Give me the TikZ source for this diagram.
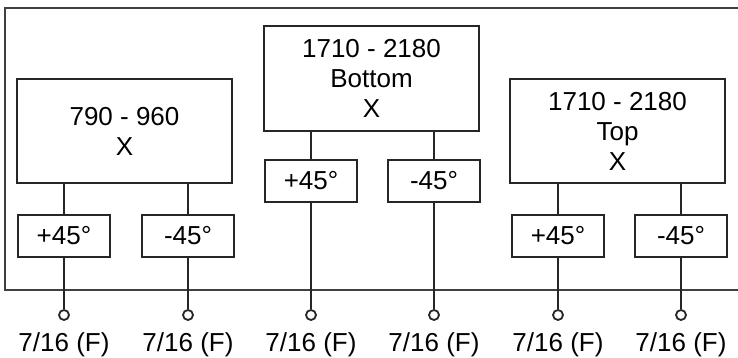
\documentclass[tikz,border=0pt]{standalone}
\usepackage{fontspec}
\setmainfont{Liberation Sans}
\begin{document}
\begin{tikzpicture}[x=0.5pt,y=-0.5pt,
  every node/.style={font=\fontsize{13}{15}\selectfont},
  bigbox/.style={draw=black!85, line width=1pt, minimum width=107.5pt, minimum height=52pt, align=center, inner sep=0pt},
  smallbox/.style={draw=black!85, line width=1pt, minimum width=46pt, minimum height=21pt, inner sep=0pt},
  port/.style={circle, draw=black!85, line width=0.9pt, fill=white, minimum size=5pt, inner sep=0pt},
  wire/.style={line width=1.1pt, draw=black!85},
  lbl/.style={anchor=base}]
\useasboundingbox (0,0) rectangle (738,358);
% outer frame
\draw[line width=1pt, draw=black!75] (745,8) -- (5,8) -- (5,290) -- (745,290);
% big boxes
\node[bigbox] (b1) at (124.5,131) {790 - 960\\X};
\node[bigbox] (b2) at (371.5,78.5) {1710 - 2180\\Bottom\\X};
\node[bigbox] (b3) at (617.5,131) {1710 - 2180\\Top\\X};
% small boxes
\node[smallbox] (s1) at (64,236) {+45°};
\node[smallbox] (s2) at (188,236) {-45°};
\node[smallbox] (s3) at (311,181) {+45°};
\node[smallbox] (s4) at (434,181) {-45°};
\node[smallbox] (s5) at (558,236) {+45°};
\node[smallbox] (s6) at (681,236) {-45°};
% ports
\foreach \i/\x in {1/64,2/188,3/311,4/434,5/558,6/681}{
  \node[port] (p\i) at (\x,315) {};
  \node[lbl] (t\i) at (\x,351) {7/16 (F)};
}
% wires big -> small
\draw[wire] (b1.south -| s1) -- (s1.north);
\draw[wire] (b1.south -| s2) -- (s2.north);
\draw[wire] (b2.south -| s3) -- (s3.north);
\draw[wire] (b2.south -| s4) -- (s4.north);
\draw[wire] (b3.south -| s5) -- (s5.north);
\draw[wire] (b3.south -| s6) -- (s6.north);
% wires small -> ports
\foreach \i in {1,...,6}{
  \draw[wire] (s\i.south) -- (p\i.north);
}
\end{tikzpicture}
\end{document}
